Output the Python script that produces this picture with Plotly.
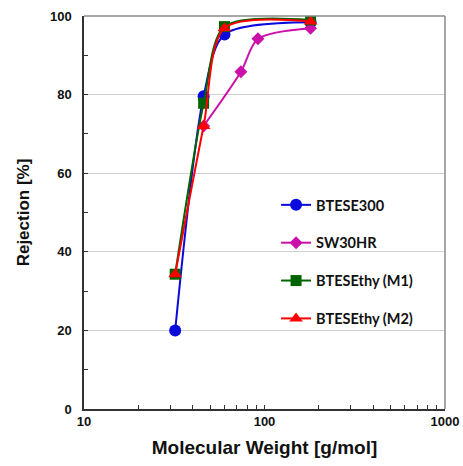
import plotly.graph_objects as go

# Data
mw_btese300 = [32, 46, 60, 180]
rej_btese300 = [20.0, 79.6, 95.3, 98.4]

mw_sw30hr = [46, 74, 92, 180]
rej_sw30hr = [72.0, 85.8, 94.2, 96.9]

mw_m1 = [32, 46, 60, 180]
rej_m1 = [34.3, 77.8, 97.3, 99.0]

mw_m2 = [32, 46, 60, 180]
rej_m2 = [34.3, 72.0, 96.9, 98.6]

series = [
    ("BTESE300", mw_btese300, rej_btese300, "#0A0ADC", "circle", 12),
    ("SW30HR", mw_sw30hr, rej_sw30hr, "#CC11AA", "diamond", 10),
    ("BTESEthy (M1)", mw_m1, rej_m1, "#006400", "square", 11),
    ("BTESEthy (M2)", mw_m2, rej_m2, "#FF0000", "triangle-up", 12),
]

fig = go.Figure()
for i, (name, x, y, color, sym, size) in enumerate(series):
    fig.add_trace(go.Scatter(
        x=x, y=y, name="<b>" + name + "</b>", mode="lines+markers",
        line=dict(color=color, width=2, shape="spline", smoothing=0.8),
        marker=dict(symbol=sym, size=size, color=color),
        legendgroup="g%d" % i,
    ))

axis_font = dict(family="Liberation Sans, Arial", size=13, color="#111")
fig.update_layout(
    width=463, height=466,
    margin=dict(l=84, r=18, t=16, b=57, autoexpand=False),
    plot_bgcolor="white", paper_bgcolor="white",
    showlegend=True,
    legend=dict(
        x=0.532, y=0.56, xanchor="left", yanchor="top",
        font=dict(family="Lato, Open Sans", size=14.5, color="#111"),
        bgcolor="rgba(0,0,0,0)", traceorder="grouped", tracegroupgap=16,
        itemwidth=30,
    ),
    xaxis=dict(
        type="log", range=[1, 3], automargin=False,
        tickvals=[10, 100, 1000], ticktext=["<b>10</b>", "<b>100</b>", "<b>1000</b>"],
        ticks="inside", ticklen=4, tickcolor="#333",
        showgrid=False, zeroline=False,
        showline=True, linecolor="#333", linewidth=1.5,
        tickfont=axis_font,
        minor=dict(ticks="inside", ticklen=4, tickcolor="#333",
                   tickvals=[20, 30, 40, 50, 60, 70, 80, 90, 200, 300, 400, 500, 600, 700, 800, 900],
                   showgrid=False),
        title=dict(text="<b>Molecular Weight [g/mol]</b>",
                   font=dict(family="Liberation Sans, Arial", size=19, color="#111"),
                   standoff=12),
    ),
    yaxis=dict(
        range=[0, 100], dtick=20, tick0=0, automargin=False,
        ticks="inside", ticklen=4, tickcolor="#333",
        showgrid=True, gridcolor="#D0D0D0", gridwidth=1, zeroline=False,
        showline=True, linecolor="#333", linewidth=1.5,
        tickfont=axis_font, tickprefix="<b>", ticksuffix="</b>",
        ticklabelstandoff=8,
        minor=dict(ticks="inside", ticklen=4, tickcolor="#333", dtick=10, showgrid=False),
        title=dict(text="<b>Rejection [%]</b>",
                   font=dict(family="Liberation Sans, Arial", size=17, color="#111"),
                   standoff=16),
    ),
)

fig.add_shape(type="line", xref="paper", yref="paper", x0=0, x1=1, y0=1, y1=1,
              line=dict(color="#8A8A8A", width=1.5))
fig.add_shape(type="line", xref="paper", yref="paper", x0=1, x1=1, y0=0, y1=1,
              line=dict(color="#8A8A8A", width=1.5))

fig.write_html("out.html", config={"displayModeBar": False},
               post_script="document.body.style.margin='0';")
